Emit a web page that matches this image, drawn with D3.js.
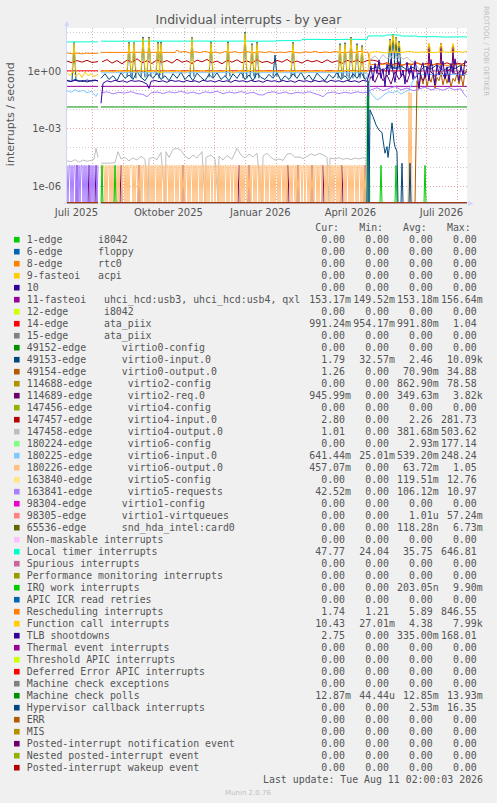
<!DOCTYPE html>
<html><head><meta charset="utf-8">
<script src="https://cdn.jsdelivr.net/npm/d3@7"></script>
<style>
html,body{margin:0;padding:0;background:#F0F0F0;}
svg{display:block;}
.sans{font-family:"DejaVu Sans",sans-serif;}
.mono{font-family:"DejaVu Sans Mono",monospace;white-space:pre;}
</style></head><body>
<svg id="chart" width="497" height="803"></svg>
<script>
// ---------------- DATA ----------------
const titleText = "Individual interrupts - by year";
const yAxisTitle = "interrupts / second";
const startDate = new Date(2025, 6, 7, 2, 0, 0);
const endDate = new Date(2026, 7, 11, 2, 0, 0);
const yTickValues = [1e-6, 1e-3, 1];
const yTickLabels = ["1e-06", "1e-03", "1e+00"];
const xTickMonths = [[2025, 6], [2025, 9], [2026, 0], [2026, 3], [2026, 6]];
const xTickLabels = ["Juli 2025", "Oktober 2025", "Januar 2026", "April 2026", "Juli 2026"];
const legendHeaders = ["Cur:", "Min:", "Avg:", "Max:"];
const lastUpdate = "Last update: Tue Aug 11 02:00:03 2026";
const sideText = "RRDTOOL / TOBI OETIKER";
const footerText = "Munin 2.0.76";

const seriesNames = [
  "1-edge      i8042", "6-edge      floppy", "8-edge      rtc0", "9-fasteoi   acpi", "10",
  "11-fasteoi   uhci_hcd:usb3, uhci_hcd:usb4, qxl", "12-edge      i8042", "14-edge      ata_piix",
  "15-edge      ata_piix", "49152-edge      virtio0-config", "49153-edge      virtio0-input.0",
  "49154-edge      virtio0-output.0", "114688-edge      virtio2-config", "114689-edge      virtio2-req.0",
  "147456-edge      virtio4-config", "147457-edge      virtio4-input.0", "147458-edge      virtio4-output.0",
  "180224-edge      virtio6-config", "180225-edge      virtio6-input.0", "180226-edge      virtio6-output.0",
  "163840-edge      virtio5-config", "163841-edge      virtio5-requests", "98304-edge      virtio1-config",
  "98305-edge      virtio1-virtqueues", "65536-edge      snd_hda_intel:card0", "Non-maskable interrupts",
  "Local timer interrupts", "Spurious interrupts", "Performance monitoring interrupts", "IRQ work interrupts",
  "APIC ICR read retries", "Rescheduling interrupts", "Function call interrupts", "TLB shootdowns",
  "Thermal event interrupts", "Threshold APIC interrupts", "Deferred Error APIC interrupts",
  "Machine check exceptions", "Machine check polls", "Hypervisor callback interrupts", "ERR", "MIS",
  "Posted-interrupt notification event", "Nested posted-interrupt event", "Posted-interrupt wakeup event"
];
const seriesColors = [
  "#00CC00", "#0066B3", "#FF8000", "#FFCC00", "#330099", "#990099", "#CCFF00", "#FF0000", "#808080",
  "#008F00", "#00487D", "#B35A00", "#B38F00", "#6B006B", "#8FB300", "#B30000", "#BEBEBE", "#80FF80",
  "#80C9FF", "#FFC080", "#FFE680", "#AA80FF", "#EE00CC", "#FF8080", "#666600", "#FFBFFF", "#00FFCC",
  "#CC6699", "#999900", "#00CC00", "#0066B3", "#FF8000", "#FFCC00", "#330099", "#990099", "#CCFF00",
  "#FF0000", "#808080", "#008F00", "#00487D", "#B35A00", "#B38F00", "#6B006B", "#8FB300", "#B30000"
];
const curVals = ["0.00","0.00","0.00","0.00","0.00","153.17m","0.00","991.24m","0.00","0.00","1.79","1.26","0.00","945.99m","0.00","2.80","1.01","0.00","641.44m","457.07m","0.00","42.52m","0.00","0.00","0.00","0.00","47.77","0.00","0.00","0.00","0.00","1.74","10.43","2.75","0.00","0.00","0.00","0.00","12.87m","0.00","0.00","0.00","0.00","0.00","0.00"];
const minVals = ["0.00","0.00","0.00","0.00","0.00","149.52m","0.00","954.17m","0.00","0.00","32.57m","0.00","0.00","0.00","0.00","0.00","0.00","0.00","25.01m","0.00","0.00","0.00","0.00","0.00","0.00","0.00","24.04","0.00","0.00","0.00","0.00","1.21","27.01m","0.00","0.00","0.00","0.00","0.00","44.44u","0.00","0.00","0.00","0.00","0.00","0.00"];
const avgVals = ["0.00","0.00","0.00","0.00","0.00","153.18m","0.00","991.80m","0.00","0.00","2.46","70.90m","862.90m","349.63m","0.00","2.26","381.68m","2.93m","539.20m","63.72m","119.51m","106.12m","0.00","1.01u","118.28n","0.00","35.75","0.00","0.00","203.05n","0.00","5.89","4.38","335.00m","0.00","0.00","0.00","0.00","12.85m","2.53m","0.00","0.00","0.00","0.00","0.00"];
const maxVals = ["0.00","0.00","0.00","0.00","0.00","156.64m","0.00","1.04","0.00","0.00","10.09k","34.88","78.58","3.82k","0.00","281.73","503.62","177.14","248.24","1.05","12.76","10.97","0.00","57.24m","6.73m","0.00","646.81","0.00","0.00","9.90m","0.00","846.55","7.99k","168.01","0.00","0.00","0.00","0.00","13.93m","16.35","0.00","0.00","0.00","0.00","0.00"];

// [day since start, value per second]; null = no data
const zeroLine = [[0,0],[31,0],[32,null],[34,0],[400,0]];
const ata14 = [[0,0.99],[31,0.99],[32,null],[34,0.99],[400,0.99]];
const fasteoi11 = [[0,0.153],[31,0.153],[32,null],[34,0.153],[400,0.153]];
const mcPolls = [[0,0.0129],[31,0.0129],[32,null],[34,0.0129],[400,0.0129]];
const localTimer = [[0,32],[4,31.5],[8,32.5],[12,31.8],[16,32.2],[20,31.6],[24,32.4],[28,31.9],[31,32.3],[32,null],[34,35],[45,34.5],[60,35.2],[75,34.8],[90,35.3],[110,34.9],[130,35.4],[150,35],[170,35.3],[190,34.8],[209,35.2],[210,37],[222,37.3],[234,36.8],[235,43],[250,43.5],[265,42.6],[280,43.4],[300,43],[301,65],[310,66],[318,65],[319,73],[326,74],[333,72],[334,65],[342,64],[350,65],[351,59],[365,60],[380,57],[395,59],[400,58]];
const rescheduling = [[0,8.5],[5,7.8],[10,8.3],[15,7.6],[20,8.4],[25,7.9],[31,8.2],[32,null],[34,9.1],[50,9.0],[70,9.2],[90,9.1],[108,9.0],[110,12],[113,9.3],[118,10.2],[123,8.4],[128,9.8],[133,8.9],[138,10.4],[143,8.6],[148,9.6],[153,8.2],[158,10.1],[163,9.0],[168,9.9],[173,8.5],[178,10.3],[183,9.2],[188,8.7],[193,9.8],[198,8.9],[203,10.0],[208,8.6],[213,9.5],[218,8.8],[223,10.2],[228,9.1],[233,8.4],[238,9.9],[243,9.0],[248,10.3],[253,8.7],[258,9.6],[263,8.9],[268,10.1],[273,9.2],[278,8.6],[283,9.8],[288,9.0],[293,10.2],[298,9.1],[301,9.4],[303,2.2],[310,2.0],[320,2.3],[330,1.9],[340,2.1],[350,2.4],[360,2.0],[370,2.2],[380,1.9],[390,2.1],[400,1.8]];
const virtio4In = [[0,3.2],[5,2.6],[10,3.4],[15,2.8],[20,3.5],[25,2.7],[31,3.0],[32,null],[35,2.9],[40,3.8],[45,2.5],[50,3.4],[55,2.3],[60,3.6],[65,2.8],[70,4.2],[75,2.6],[80,3.3],[85,2.4],[90,3.7],[95,2.7],[100,3.4],[105,2.5],[110,4.0],[115,2.8],[120,3.3],[125,2.4],[130,3.6],[135,2.9],[140,3.9],[145,2.6],[150,3.2],[155,2.3],[160,3.5],[165,2.8],[170,3.7],[175,2.6],[180,3.3],[185,2.5],[190,3.8],[195,2.7],[200,3.1],[205,2.4],[210,3.5],[215,2.8],[220,3.9],[225,2.6],[230,3.2],[235,2.5],[240,3.6],[245,2.9],[250,3.4],[255,2.6],[260,3.7],[265,2.7],[270,3.3],[275,2.4],[280,3.5],[285,2.8],[290,3.6],[295,2.6],[300,3.4],[305,3.6],[310,3.2],[315,2.2],[320,2.6],[325,2.0],[330,2.5],[335,1.9],[340,2.4],[345,2.1],[350,2.6],[355,2.0],[360,2.5],[365,1.9],[370,2.4],[375,2.1],[380,2.6],[385,2.0],[390,2.5],[395,2.2],[400,2.8]];
const fnCallBase = [[0,0.8],[3,0.55],[6,0.9],[9,0.5],[12,0.75],[15,0.45],[18,0.85],[21,0.55],[24,0.7],[27,0.5],[31,0.65],[32,null],[34,0.9],[40,1.0],[46,0.85],[52,1.05],[58,0.9],[64,1.0],[70,0.85],[76,1.05],[82,0.9],[88,1.0],[94,0.8],[100,1.0],[106,0.9],[112,1.05],[118,0.85],[124,1.0],[130,0.9],[136,1.05],[142,0.85],[148,1.0],[154,0.9],[160,1.05],[166,0.8],[172,1.0],[178,0.9],[184,1.05],[190,0.85],[196,1.0],[202,0.9],[208,1.0],[214,0.85],[220,1.05],[226,0.9],[232,1.0],[238,0.85],[244,1.0],[250,0.9],[256,1.05],[262,0.85],[268,1.0],[274,0.9],[280,1.05],[286,0.9],[292,1.0],[298,0.85],[301,1.0],[303,9],[310,10],[318,8.5],[326,9.5],[334,8.8],[342,10.2],[350,9.0],[358,9.6],[366,8.7],[374,9.8],[382,9.2],[390,10.0],[396,9.4],[400,10.4]];
// [day, value before/after, peak value]
const fnCallSpikes = [[7,0.8,27],[62,0.95,27],[67,1,27],[76,1,49],[82,0.9,49],[91,0.9,27],[94,0.8,27],[125,1,49],[144,0.9,29],[161,1,28],[178,0.9,89],[185,1,22],[190,0.85,27],[226,0.9,27],[273,0.9,22],[278,1,25],[284,0.9,49],[290,1,22],[295,0.9,18],[323,9,40],[326,9.5,73],[329,9,50],[332,9,30],[362,9,27],[374,9.8,27],[386,9.2,27]];
const virtio0InBase = [[0,0.32],[4,0.28],[8,0.35],[12,0.3],[16,0.27],[20,0.33],[24,0.29],[28,0.31],[31,0.3],[32,null],[34,0.4],[38,0.7],[42,0.35],[46,0.55],[50,0.3],[54,0.8],[58,0.4],[62,0.6],[66,0.35],[70,0.9],[74,0.45],[78,0.3],[82,0.65],[86,0.4],[90,0.75],[94,0.35],[98,0.55],[102,0.3],[106,0.7],[110,0.4],[114,0.85],[118,0.35],[122,0.6],[126,0.3],[130,0.75],[134,0.45],[138,0.3],[142,0.65],[146,0.4],[150,0.8],[154,0.35],[158,0.55],[162,0.3],[166,0.7],[170,0.4],[174,0.85],[178,0.35],[182,0.6],[186,0.3],[190,0.75],[194,0.45],[198,0.35],[202,0.65],[206,0.4],[210,0.8],[214,0.3],[218,0.55],[222,0.35],[226,0.7],[230,0.4],[234,0.85],[238,0.35],[242,0.6],[246,0.3],[250,0.75],[254,0.45],[258,0.3],[262,0.65],[266,0.4],[270,0.8],[274,0.35],[278,0.55],[282,0.3],[286,0.7],[290,0.4],[294,0.85],[298,0.35],[301,0.5],[304,1.2],[310,1.6],[316,1.0],[322,2.0],[328,1.3],[334,1.8],[340,1.1],[346,1.5],[352,0.9],[358,1.7],[364,1.2],[370,2.1],[376,1.0],[382,1.6],[388,1.3],[394,2.0],[400,1.8]];
const virtio0InSpikes = [[7,0.3,30],[62,0.5,31],[67,0.4,30],[76,0.45,58],[82,0.5,58],[91,0.6,32],[94,0.4,32],[125,0.5,56],[144,0.45,34],[161,0.5,33],[178,0.4,105],[185,0.5,26],[190,0.4,31],[208,0.5,6.6],[226,0.5,31],[273,0.4,26],[278,0.5,29],[284,0.4,57],[290,0.5,26],[295,0.4,21],[323,1.2,45],[326,1.3,80],[329,1.2,55],[332,1.1,35]];
const hypervisor = [[0,0],[31,0],[32,null],[34,0],[300,0],[301,0.3],[302,0],[303,0.009],[306,0.004],[309,0.0015],[312,0.0008],[315,0.0006],[316,0.00024],[318,0.00005],[320,0.00011],[321,0.00003],[323,0.0002],[325,0.0019],[327,0.0002],[328,0.00011],[330,0.00006],[331,0],[334,0],[335,0.000015],[336,0],[342,0],[343,0.000015],[344,0],[400,0]];
const tlb = [[0,0.3],[4,0.27],[8,0.32],[12,0.28],[16,0.31],[20,0.26],[24,0.3],[28,0.33],[31,0.29],[32,null],[34,0.02],[36,0.22],[40,0.3],[44,0.26],[48,0.32],[52,0.27],[56,0.3],[60,0.25],[64,0.31],[68,0.28],[72,0.3],[76,0.26],[80,0.2],[82,0.12],[84,0.28],[88,0.31],[92,0.27],[96,0.3],[100,0.25],[104,0.32],[108,0.28],[112,0.3],[116,0.26],[120,0.31],[124,0.27],[128,0.3],[132,0.25],[136,0.32],[140,0.28],[144,0.3],[148,0.26],[152,0.31],[156,0.27],[160,0.3],[164,0.25],[168,0.32],[172,0.28],[176,0.3],[180,0.26],[184,0.31],[188,0.27],[192,0.3],[196,0.25],[200,0.32],[204,0.28],[208,0.3],[212,0.26],[216,0.31],[220,0.27],[224,0.3],[228,0.25],[232,0.32],[236,0.28],[240,0.3],[244,0.26],[248,0.31],[252,0.27],[256,0.3],[260,0.25],[264,0.32],[268,0.28],[272,0.3],[276,0.26],[280,0.31],[284,0.27],[288,0.3],[292,0.25],[296,0.32],[300,0.28],[302,0.6],[304,1.8],[306,0.3],[308,2.4],[310,0.7],[312,3.6],[314,0.4],[316,1.3],[318,0.15],[320,2.2],[322,0.6],[324,4.0],[326,0.9],[328,0.25],[330,1.5],[332,3.0],[334,0.5],[336,1.1],[338,0.2],[340,2.8],[342,0.7],[344,1.9],[346,0.35],[348,3.3],[350,0.8],[352,0.12],[354,1.4],[356,2.6],[358,0.45],[360,1.7],[362,0.3],[364,3.8],[366,0.9],[368,0.18],[370,2.1],[372,0.6],[374,1.2],[376,3.1],[378,0.4],[380,1.6],[382,0.25],[384,2.4],[386,0.7],[388,4.2],[390,1.0],[392,0.3],[394,1.9],[396,0.55],[398,3.4],[400,2.75]];
const virtio0Out = [[0,0],[31,0],[32,null],[34,0],[348,0],[350,0.3],[352,0.12],[354,0.6],[356,0.2],[358,0.85],[360,0.15],[362,0.5],[364,0.25],[366,0.7],[368,0.12],[370,0.45],[372,0.3],[374,0.8],[376,0.18],[378,0.55],[380,0.22],[382,0.65],[384,0.14],[386,0.4],[388,0.28],[390,0.75],[392,0.2],[394,0.6],[396,0.15],[398,0.9],[400,1.26]];
const virtio2ReqEventDays = [10, 22, 29, 54, 72, 116, 172, 182, 221, 231, 245, 256, 275, 298];
const virtio2ReqLate = [[300,0],[301,0.2],[304,0.5],[308,0.25],[312,0.8],[316,0.3],[320,0.6],[324,0.2],[328,0.9],[332,0.35],[336,0.7],[340,0.25],[344,1.1],[348,0.4],[352,0.8],[356,0.3],[360,0.7],[361,1],[362,25],[363,1],[368,0.5],[373,0.9],[374,28],[375,0.8],[378,0.4],[382,1.2],[385,0.9],[386,22],[387,0.8],[390,0.6],[394,1.2],[398,0.7],[400,0.95]];
const virtio4Out = [[0,2e-5],[4,1.8e-5],[8,2.3e-5],[12,1.7e-5],[16,2.2e-5],[20,1.9e-5],[24,2.1e-5],[27,2.4e-5],[29,9e-5],[31,3e-5],[32,null],[34,1.5e-5],[42,1.5e-5],[48,1.6e-5],[51,6e-5],[54,2.5e-5],[58,3e-5],[62,2e-5],[66,2.8e-5],[70,2.2e-5],[74,3.4e-5],[78,2.4e-5],[81,0],[82,2.6e-5],[86,3e-5],[90,2.3e-5],[94,5.5e-5],[98,0],[99,6e-5],[102,3e-5],[106,8e-5],[110,9e-5],[114,7e-5],[118,3.5e-5],[122,2.5e-5],[126,4e-5],[130,2.8e-5],[135,6e-5],[138,0],[139,3e-5],[144,4e-5],[148,2.5e-5],[151,0],[152,3.5e-5],[156,2.2e-5],[160,3.8e-5],[165,2.4e-5],[170,9e-5],[174,4e-5],[178,2.8e-5],[182,4.5e-5],[186,3.2e-5],[190,5e-5],[195,0],[196,3.5e-5],[200,5e-5],[204,3e-5],[208,2.2e-5],[212,2.5e-5],[216,2.1e-5],[220,4.5e-5],[224,4.8e-5],[228,3e-5],[232,3.2e-5],[236,2.6e-5],[240,3.4e-5],[244,4.6e-5],[248,3.8e-5],[252,4.8e-5],[256,4.2e-5],[260,3e-5],[262,0],[263,2.8e-5],[268,2.5e-5],[272,2.9e-5],[276,2.4e-5],[280,2.7e-5],[284,2.3e-5],[288,2.8e-5],[292,2.5e-5],[296,2.9e-5],[300,2.5e-5],[301,0],[303,4],[308,6],[312,3.5],[316,7],[320,4.2],[324,5.5],[328,3.8],[332,6.5],[336,4],[340,5],[344,3.2],[348,2.5],[352,1.2],[360,1.0],[370,1.1],[380,0.9],[390,1.05],[400,1.01]];
const virtio6Config = [[0,0],[31,0],[32,null],[34,0],[299,0],[300,0.05],[301,0],[302,0.045],[303,0],[400,0]];
const virtio6In = [[0,0.09],[4,0.075],[8,0.1],[12,0.08],[16,0.095],[20,0.07],[24,0.085],[27,0.06],[29,0.045],[31,0.07],[32,null],[34,0.78],[60,0.8],[100,0.78],[150,0.8],[200,0.79],[250,0.8],[300,0.78],[302,0.09],[306,0.05],[310,0.03],[314,0.04],[318,0.06],[322,0.08],[326,0.07],[330,0.09],[334,0.06],[338,0.08],[342,0.1],[346,0.3],[350,0.64],[360,0.65],[370,0.62],[380,0.66],[390,0.63],[400,0.64]];
// events per day (1 interrupt per day = 1/86400 per second)
const virtio6OutDailyStart = 34;
const virtio6OutDailyCounts = [
  1,0,1,1,0,1,0,1,1,0, 1,0,1,0,1,1,0,1,0,1, 1,0,1,1,0,1,0,1,0,1, 1,1,0,1,0,1,1,0,1,0,
  1,0,1,1,0,1,0,1,1,0, 1,0,1,0,1,1,0,1,0,1, 0,1,1,0,1,0,1,1,0,1, 0,1,0,1,1,0,1,0,1,1,
  0,1,0,1,0,1,1,0,1,0, 1,1,0,1,0,1,0,1,1,0, 1,0,1,1,0,1,0,1,0,1, 1,0,1,1,0,1,1,0,1,0,
  1,0,1,0,1,1,0,1,0,1, 1,0,1,1,0,1,0,1,1,0, 1,0,1,0,1,1,0,1,0,1, 0,1,1,0,1,0,1,1,0,1,
  0,1,0,1,1,0,1,0,1,1, 0,1,0,1,0,1,1,0,1,0, 1,1,0,1,0,1,0,1,1,0, 1,0,1,1,0,1,0,1,0,1,
  1,0,1,1,0,1,1,0,1,0, 1,0,1,0,1,1,0,1,0,1, 1,0,1,1,0,1,0,1,1,0, 1,0,1,0,1,1,0,1,0,1,
  0,1,1,0,1,0,1,1,0,1, 0,1,0,1,1,0,1,0,1,1, 0,1,0,1,0,1,1
];
const virtio6OutLate = [[300,0],[341,0],[342,0.08],[343,0],[344,0.07],[345,0],[400,0]];
const virtio5ReqDailyStart = 0;
const virtio5ReqDailyCounts = [1,0,1,1,0,1,0,1,1,0,1,0,1,0,1,1,0,1,0,1,0,1,1,0,1,0,1,0,1,1,0,1];
const virtio5Req = [[34,0.07],[40,0.08],[46,0.062],[52,0.075],[58,0.068],[64,0.082],[70,0.064],[76,0.058],[80,0.044],[84,0.07],[90,0.078],[96,0.065],[102,0.08],[108,0.07],[114,0.085],[120,0.066],[126,0.076],[132,0.062],[138,0.08],[144,0.07],[150,0.085],[156,0.064],[162,0.078],[168,0.068],[174,0.082],[180,0.066],[186,0.075],[192,0.056],[196,0.054],[200,0.07],[206,0.08],[212,0.065],[218,0.078],[224,0.062],[230,0.075],[236,0.068],[242,0.08],[248,0.064],[254,0.05],[256,0.044],[260,0.068],[266,0.078],[272,0.064],[278,0.076],[284,0.066],[290,0.08],[296,0.07],[300,0.075],[304,0.1],[310,0.13],[316,0.09],[322,0.12],[328,0.15],[334,0.1],[340,0.125],[346,0.09],[352,0.11],[358,0.14],[364,0.1],[370,0.12],[376,0.095],[382,0.13],[388,0.1],[394,0.115],[397,0.06],[400,0.042]];
const irqWorkEventDays = [35, 48, 314, 329, 358];

// ---------------- DRAWING ----------------
const W = 497, H = 803;
const ONE_PER_DAY = 1 / 86400;
const svg = d3.select("#chart");
svg.append("rect").attr("width", W).attr("height", H).attr("fill", "#F0F0F0");

const pL = 67, pR = 467, pT = 28, pB = 203;
const x = d3.scaleTime().domain([startDate, endDate]).range([pL, pR]);
const yMin = Math.pow(10, -6.9), yMax = Math.pow(10, 2.23);
const y = d3.scaleLog().domain([yMin, yMax]).range([pB, pT]);
const dayDate = d => new Date(startDate.getTime() + d * 864e5);

svg.append("rect").attr("x", pL).attr("y", pT).attr("width", pR - pL).attr("height", pB - pT).attr("fill", "#FFFFFF");

const gridMinor = "rgba(140,140,140,0.45)", gridMajor = "rgba(200,60,60,0.45)";
const grid = svg.append("g");
d3.range(-6, 3).forEach(e => {
  const yy = Math.round(y(Math.pow(10, e))) + 0.5;
  grid.append("line").attr("x1", pL).attr("x2", pR).attr("y1", yy).attr("y2", yy)
    .attr("stroke", e % 3 === 0 ? gridMajor : gridMinor).attr("stroke-dasharray", "1,2");
});
d3.timeMonth.range(startDate, endDate).forEach(m => {
  const xx = Math.round(x(m)) + 0.5;
  grid.append("line").attr("x1", xx).attr("x2", xx).attr("y1", pT).attr("y2", pB)
    .attr("stroke", gridMajor).attr("stroke-dasharray", "1,2");
});

// series paths
const fromDaily = (start, counts) => counts.map((c, i) => [start + i, c * ONE_PER_DAY]);
const fromEvents = days => days.map(d => [[d - 1, 0], [d, ONE_PER_DAY], [d + 1, 0]]);
const fromSpikes = sp => sp.map(([d, b, p]) => [[d - 2, b], [d, p], [d + 2, b]]);

const seriesPaths = seriesNames.map(() => [zeroLine]);
seriesPaths[5] = [fasteoi11];
seriesPaths[7] = [ata14];
seriesPaths[10] = [virtio0InBase, ...fromSpikes(virtio0InSpikes)];
seriesPaths[11] = [virtio0Out];
seriesPaths[13] = [zeroLine, ...fromEvents(virtio2ReqEventDays), virtio2ReqLate];
seriesPaths[15] = [virtio4In];
seriesPaths[16] = [virtio4Out];
seriesPaths[17] = [virtio6Config];
seriesPaths[18] = [virtio6In];
seriesPaths[19] = [zeroLine, fromDaily(virtio6OutDailyStart, virtio6OutDailyCounts), virtio6OutLate];
seriesPaths[21] = [fromDaily(virtio5ReqDailyStart, virtio5ReqDailyCounts), virtio5Req];
seriesPaths[26] = [localTimer];
seriesPaths[29] = [zeroLine, ...fromEvents(irqWorkEventDays)];
seriesPaths[31] = [rescheduling];
seriesPaths[32] = [fnCallBase, ...fromSpikes(fnCallSpikes)];
seriesPaths[33] = [tlb];
seriesPaths[38] = [mcPolls];
seriesPaths[39] = [hypervisor];

svg.append("clipPath").attr("id", "clip").append("rect")
  .attr("x", pL).attr("y", pT - 1).attr("width", pR - pL).attr("height", pB - pT + 1.5);
const line = d3.line()
  .defined(p => p[1] !== null)
  .x(p => x(dayDate(p[0])))
  .y(p => y(Math.max(p[1], yMin)));
const dataG = svg.append("g").attr("clip-path", "url(#clip)");
seriesPaths.forEach((paths, i) => {
  paths.forEach(pts => {
    dataG.append("path").attr("d", line(pts)).attr("fill", "none")
      .attr("stroke", seriesColors[i]).attr("stroke-width", 1);
  });
});

// axes
const axisCol = "#CFD6F8";
svg.append("line").attr("x1", 66.5).attr("x2", 66.5).attr("y1", pB + 1).attr("y2", 24).attr("stroke", axisCol);
svg.append("path").attr("d", "M64.3,26L66.8,21L69.3,26Z").attr("fill", axisCol);
svg.append("line").attr("x1", 64).attr("x2", 470).attr("y1", pB + 0.5).attr("y2", pB + 0.5).attr("stroke", axisCol).attr("stroke-opacity", 0.6);
svg.append("path").attr("d", "M468.3,200.8L473.3,203.5L468.3,206.2Z").attr("fill", axisCol);

const fontCol = "#555555";
const yAxis = d3.axisLeft(y).tickValues(yTickValues).tickFormat((d, i) => yTickLabels[i]).tickSize(0).tickPadding(0);
const yg = svg.append("g").attr("transform", "translate(61,0)").call(yAxis);
yg.select(".domain").remove();
yg.selectAll("text").attr("class", "sans").attr("font-size", "10px").attr("fill", fontCol)
  .attr("font-family", "DejaVu Sans").attr("dy", "0.36em");

const xLabelDates = xTickMonths.map(([yy, mm]) => d3.timeDay.offset(new Date(yy, mm, 1), 15));
const xAxis = d3.axisBottom(x).tickValues(xLabelDates).tickFormat((d, i) => xTickLabels[i]).tickSize(0).tickPadding(6);
const xg = svg.append("g").attr("transform", `translate(0,${pB})`).call(xAxis);
xg.select(".domain").remove();
xg.selectAll("text").attr("font-size", "10px").attr("fill", fontCol).attr("font-family", "DejaVu Sans");

// titles
svg.append("text").attr("class", "sans").attr("x", 248.5).attr("y", 24).attr("text-anchor", "middle")
  .attr("font-size", "12.5px").attr("fill", fontCol).text(titleText);
svg.append("text").attr("class", "sans").attr("transform", "translate(14,114.2) rotate(-90)")
  .attr("text-anchor", "middle").attr("font-size", "11px").attr("fill", fontCol).text(yAxisTitle);
svg.append("text").attr("class", "sans").attr("transform", "translate(484,6) rotate(90)")
  .attr("font-size", "7px").attr("fill", "#C0C0C0").text(sideText);

// legend
const cols = [345, 389, 432.7, 476.7];
const legendG = svg.append("g").attr("class", "mono").attr("font-size", "9.9px").attr("fill", fontCol);
legendHeaders.forEach((h, j) => {
  legendG.append("text").attr("x", cols[j] - 5.96).attr("y", 230.7).attr("text-anchor", "end").text(h);
});
const table = [curVals, minVals, avgVals, maxVals];
seriesNames.forEach((name, i) => {
  const yb = 242.7 + i * 12;
  legendG.append("rect").attr("x", 14).attr("y", yb - 5.8).attr("width", 5.6).attr("height", 5.6).attr("fill", seriesColors[i]);
  legendG.append("text").attr("x", 26.7).attr("y", yb).attr("xml:space", "preserve").text(name);
  table.forEach((arr, j) => {
    const m = arr[i].match(/^([\d.]+)(\D?)$/);
    legendG.append("text").attr("x", cols[j]).attr("y", yb).attr("text-anchor", "end").text(m[1]);
    if (m[2]) legendG.append("text").attr("x", cols[j]).attr("y", yb).text(m[2]);
  });
});
legendG.append("text").attr("x", 483).attr("y", 782.7).attr("text-anchor", "end").text(lastUpdate);
svg.append("text").attr("class", "sans").attr("x", 248).attr("y", 795).attr("text-anchor", "middle")
  .attr("font-size", "7px").attr("fill", "#C0C0C0").text(footerText);
</script></body></html>
